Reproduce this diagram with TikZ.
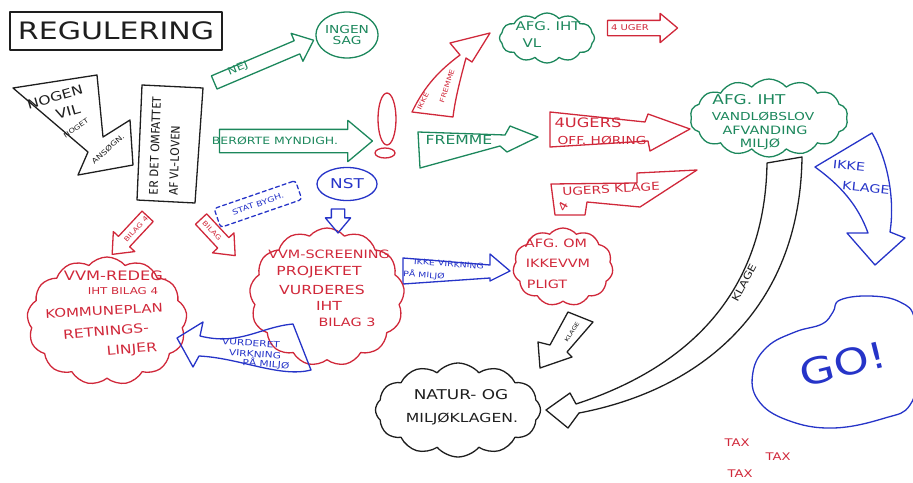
\documentclass[tikz,border=0pt]{standalone}
\usepackage{fontspec}
\setmainfont{DejaVu Sans}[FakeStretch=1.25]
\newfontfamily\tallfont{Fira Sans}
\usetikzlibrary{shapes.geometric,shapes.symbols,shapes.arrows}
\definecolor{grn}{RGB}{28,135,92}
\definecolor{rd}{RGB}{208,40,58}
\definecolor{blu}{RGB}{38,52,200}
\definecolor{ink}{RGB}{30,30,30}
\begin{document}
\begin{tikzpicture}[x=1pt,y=-1pt,line join=round,line cap=round,
  pen/.style={line width=1.3pt},
  fs/.style={font=\fontsize{#1}{#1}\selectfont},
  lbl/.style={inner sep=0pt,align=center},
  fa/.style={single arrow, draw, pen, text height=0pt, text depth=0pt, inner xsep=0pt,
    single arrow head indent=0pt, single arrow tip angle=80},
  puff/.style={cloud, draw, pen, cloud puff arc=100, cloud ignores aspect, inner sep=0pt}
]
\useasboundingbox (0,0) rectangle (913,482);

% title
\node[draw=ink,pen,text=ink,fs=24,minimum width=212pt,minimum height=38pt,inner sep=0pt] (title) at (116,31) {REGULERING};

% nogen vil noget
\draw[ink,pen] (13,88) -- (97,75) -- (103,137) -- (130,120) -- (133,165) -- (78,175) -- (88,152) -- cycle;
\node[lbl,text=ink,fs=12.5,rotate=16] (nogen) at (55,97) {NOGEN};
\node[lbl,text=ink,fs=13,rotate=16] (vil) at (68,112) {VIL};
\node[lbl,text=ink,fs=6.5,rotate=35] (noget) at (76,128) {NOGET};
\node[lbl,text=ink,fs=7,rotate=42] (ansogn) at (108,149) {ANSØGN.};

% er det omfattet
\draw[ink,pen] (142,85) -- (203,88) -- (195,203) -- (137,200) -- cycle;
\node[lbl,text=ink,font=\tallfont\fontsize{12.5}{20}\selectfont,rotate=88,align=left] (omfattet) at (165,146) {ER DET OMFATTET\\AF VL-LOVEN};

% nej -> ingen sag
\node[fa,draw=grn,rotate=23,minimum height=108pt,inner ysep=6.5pt,single arrow head extend=8pt] (nej) at (260,63) {};
\node[lbl,text=grn,fs=10,rotate=23] (nejt) at (238,69) {NEJ};
\node[ellipse,draw=grn,pen,minimum width=57pt,minimum height=46pt,text=grn,fs=11,align=center,inner sep=0pt] (ingen) at (347,35) {INGEN\\SAG};

% berorte myndigh
\node[fa,draw=grn,minimum height=153pt,inner ysep=11pt,single arrow head extend=9pt] (berorte) at (289,141) {};
\node[lbl,text=grn,fs=10] (berortet) at (275,141) {BERØRTE MYNDIGH.};

% !
\node[ellipse,draw=rd,pen,minimum width=18pt,minimum height=52pt] (bang) at (387,119) {};
\node[ellipse,draw=rd,pen,minimum width=20pt,minimum height=10pt] (bangdot) at (385,153) {};

% fremme
\draw[grn,pen] (418,132) -- (505,135) -- (510,126) -- (538,137) -- (507,152) -- (500,146) -- (420,168) -- cycle;
\node[lbl,text=grn,fs=12.5] (fremme) at (459,140) {FREMME};

% ikke fremme
\draw[rd,pen] (412,112) .. controls (425,85) and (440,70) .. (460,55) -- (450,43) -- (490,33) -- (472,62) -- (466,58) .. controls (460,80) and (455,100) .. (453,117) -- cycle;
\node[lbl,text=rd,fs=6.5,rotate=62] (ikkefr) at (423,101) {IKKE};
\node[lbl,text=rd,fs=6.5,rotate=72] (fremme2) at (447,86) {FREMME};

% afg iht vl
\node[puff,draw=grn,cloud puffs=12,minimum width=95pt,minimum height=50pt] (vlcloud) at (547,38) {};
\node[lbl,text=grn,fs=12] (vlt1) at (548,26) {AFG. IHT};
\node[lbl,text=grn,fs=12] (vlt2) at (532,43) {VL};
\node[fa,draw=rd,minimum height=70pt,inner ysep=7pt,single arrow head extend=7pt] (uger) at (638,28) {};
\node[lbl,text=rd,fs=8] (ugert) at (630,28) {4 UGER};

% 4 ugers off hoering
\draw[rd,pen] (550,112) -- (645,122) -- (648,114) -- (690,129) -- (650,151) -- (648,141) -- (550,147) -- cycle;
\node[lbl,text=rd,fs=13] (hor1) at (588,123) {4UGERS};
\node[lbl,text=rd,fs=11] (hor2) at (602,140) {OFF. HØRING};

% afg iht vandloebslov
\node[puff,draw=grn,cloud puffs=14,minimum width=158pt,minimum height=78pt] (vand) at (769,118) {};
\node[lbl,text=grn,fs=13.5] (vand1) at (749,100) {AFG. IHT};
\node[lbl,text=grn,fs=11] (vand2) at (763,116) {VANDLØBSLOV};
\node[lbl,text=grn,fs=11.5] (vand3) at (765,130) {AFVANDING};
\node[lbl,text=grn,fs=11.5] (vand4) at (760,144) {MILJØ};

% 4 ugers klage
\draw[rd,pen] (551,184) -- (637,183) -- (637,173) -- (697,170) -- (640,207) -- (587,202) -- (585,215) -- (555,215) -- cycle;
\node[lbl,text=rd,fs=11,rotate=3] (klage4) at (611,189) {UGERS KLAGE};
\node[lbl,text=rd,fs=11.5,rotate=60] (four) at (563,206) {4};

% ikke klage
\draw[blu,pen] (815,167) -- (872,133) .. controls (888,160) and (895,200) .. (890,232) -- (905,238) -- (875,265) -- (847,233) -- (868,233) .. controls (858,205) and (840,185) .. cycle;
\node[lbl,text=blu,fs=11.5,rotate=-6] (ikkek1) at (849,166) {IKKE};
\node[lbl,text=blu,fs=11.5,rotate=-6] (ikkek2) at (866,188) {KLAGE};

% go
\draw[blu,pen] plot[smooth cycle,tension=0.7] coordinates {(840,300) (870,296) (900,302) (915,320) (918,370) (910,405) (885,418) (833,428) (787,420) (758,400) (753,372) (767,347) (795,332) (822,324) (833,312)};
\node[lbl,text=blu,fs=36,rotate=14] (go) at (843,364) {GO!};

% big klage arrow
\draw[ink,pen] (767,163) .. controls (765,300) and (680,370) .. (576,404) -- (570,393) -- (546,410) -- (568,428) -- (579,413) .. controls (700,390) and (800,310) .. (802,157) -- cycle;
\node[lbl,text=ink,fs=10,rotate=62] (klagebig) at (744,283) {KLAGE};

% small klage arrow
\draw[ink,pen] (568,312) -- (593,322) -- (567,352) -- (572,357) -- (540,368) -- (538,342) -- (550,345) -- cycle;
\node[lbl,text=ink,fs=5.5,rotate=58] (klagesm) at (572,332) {KLAGE};

% natur og miljoeklagen
\node[puff,draw=ink,cloud puffs=12,minimum width=165pt,minimum height=94pt] (natur) at (458,410) {};
\node[lbl,text=ink,fs=13.5] (natur1) at (461,395) {NATUR- OG};
\node[lbl,text=ink,fs=12.5] (natur2) at (462,419) {MILJØKLAGEN.};

% afg om ikke vvm pligt
\node[puff,draw=rd,cloud puffs=11,minimum width=100pt,minimum height=78pt] (ikkevvm) at (563,267) {};
\node[lbl,text=rd,fs=11.5] (iv1) at (556,243) {AFG. OM};
\node[lbl,text=rd,fs=11.5] (iv2) at (558,263) {IKKEVVM};
\node[lbl,text=rd,fs=11.5] (iv3) at (547,284) {PLIGT};

% ikke virkning paa miljoe
\draw[blu,pen] (403,258) -- (490,265) -- (490,254) -- (510,271) -- (490,281) -- (490,278) -- (403,284) -- cycle;
\node[lbl,text=blu,fs=7.5,rotate=-4] (iv4) at (449,264) {IKKE VIRKNING};
\node[lbl,text=blu,fs=7.5,rotate=-4] (iv5) at (424,275) {PÅ MILJØ};

% vvm screening
\node[puff,draw=rd,cloud puffs=13,minimum width=155pt,minimum height=138pt] (screen) at (327,297) {};
\node[lbl,text=rd,fs=11.5] (sc1) at (329,254) {VVM-SCREENING};
\node[lbl,text=rd,fs=12.5] (sc2) at (319,272) {PROJEKTET};
\node[lbl,text=rd,fs=12.5] (sc3) at (322,290) {VURDERES};
\node[lbl,text=rd,fs=12.5] (sc4) at (329,306) {IHT};
\node[lbl,text=rd,fs=11.5] (sc5) at (347,322) {BILAG 3};

% nst
\node[ellipse,draw=blu,pen,minimum width=60pt,minimum height=33pt,text=blu,fs=13.5,inner sep=0pt] (nst) at (347,184) {NST};
\node[fa,draw=blu,rotate=-90,minimum height=24pt,inner ysep=6pt,single arrow head extend=6pt] (nstarrow) at (338,217) {};

% stat bygh
\node[draw=blu,pen,dash pattern=on 4pt off 3pt,rotate=19,minimum width=86pt,minimum height=20pt,rounded corners=3pt,text=blu,fs=7.5,inner sep=0pt] (stat) at (258,204) {STAT BYGH.};

% bilag arrows
\node[fa,draw=rd,rotate=-47,minimum height=50pt,inner ysep=7pt,single arrow head extend=7pt] (bilag) at (215,234) {};
\node[lbl,text=rd,fs=6.5,rotate=-47] (bilagt) at (212,231) {BILAG};
\node[fa,draw=rd,rotate=47,shape border rotate=180,minimum height=52pt,inner ysep=7pt,single arrow head extend=7pt] (bilag4) at (133,232) {};
\node[lbl,text=rd,fs=6.5,rotate=47] (bilag4t) at (136,229) {BILAG 4};

% vvm redeg
\node[puff,draw=rd,cloud puffs=13,minimum width=160pt,minimum height=128pt] (redeg) at (107,321) {};
\node[lbl,text=rd,fs=13] (rd1) at (116,276) {VVM-REDEG.};
\node[lbl,text=rd,fs=9.5] (rd2) at (123,291) {IHT BILAG 4};
\node[lbl,text=rd,fs=12,rotate=3] (rd3) at (104,311) {KOMMUNEPLAN};
\node[lbl,text=rd,fs=12.5,rotate=5] (rd4) at (106,331) {RETNINGS-};
\node[lbl,text=rd,fs=12.5,rotate=5] (rd5) at (132,350) {LINJER};

% vurderet virkning
\draw[blu,pen] (177,338) -- (203,322) -- (200,336) .. controls (240,346) and (260,327) .. (293,324) -- (311,370) .. controls (280,378) and (240,358) .. (199,356) -- (193,367) -- cycle;
\node[lbl,text=blu,fs=8.5,rotate=-4] (vv1) at (251,343) {VURDERET};
\node[lbl,text=blu,fs=8.5,rotate=-4] (vv2) at (255,354) {VIRKNING};
\node[lbl,text=blu,fs=8.5,rotate=-4] (vv3) at (266,364) {PÅ MILJØ};

% tax
\node[lbl,text=rd,fs=10.5] (tax1) at (737,443) {TAX};
\node[lbl,text=rd,fs=10.5] (tax2) at (778,457) {TAX};
\node[lbl,text=rd,fs=10.5] (tax3) at (740,474) {TAX};
\end{tikzpicture}
\end{document}
